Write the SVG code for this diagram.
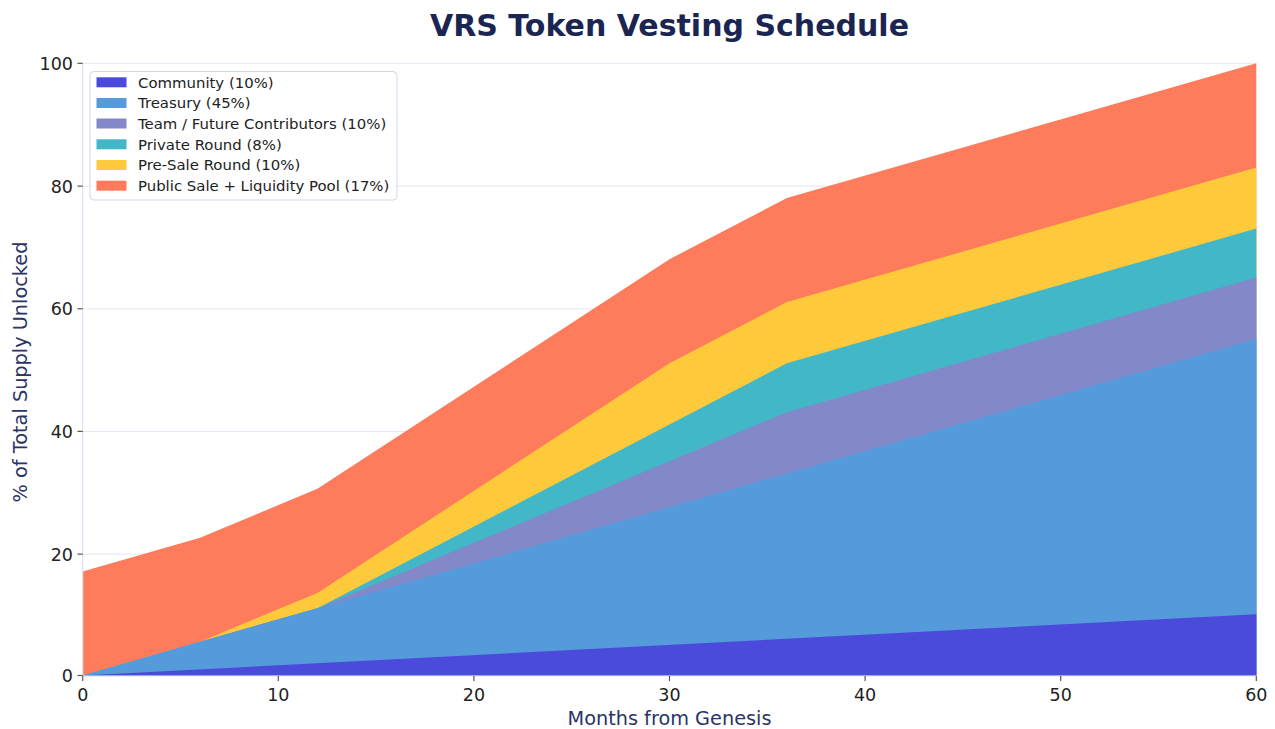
<svg xmlns="http://www.w3.org/2000/svg" width="1275" height="729" viewBox="0 0 1275 729">
<style>
text{font-family:"DejaVu Sans","Liberation Sans",sans-serif}
.tick{font-size:17.5px;fill:#222}
.grid{stroke:#e4e6f1;stroke-width:1}
.tk{stroke:#555;stroke-width:1.2}
.leg{font-size:14.9px;fill:#222}
.c1{fill:#4a4bdb}.c2{fill:#559bdb}.c3{fill:#8288c8}.c4{fill:#42b7c7}.c5{fill:#fec93a}.c6{fill:#fe7b5c}
</style>
<rect width="1275" height="729" fill="#fff"/>
<text x="669.5" y="36" text-anchor="middle" font-size="30" font-weight="bold" fill="#1b2552">VRS Token Vesting Schedule</text>
<g id="grid">
<line class="grid" x1="83" y1="63.3" x2="1256.3" y2="63.3"/>
<line class="grid" x1="83" y1="186.1" x2="1256.3" y2="186.1"/>
<line class="grid" x1="83" y1="308.8" x2="1256.3" y2="308.8"/>
<line class="grid" x1="83" y1="431.4" x2="1256.3" y2="431.4"/>
<line class="grid" x1="83" y1="554.1" x2="1256.3" y2="554.1"/>
</g>
<g id="areas">
<path id="public" class="c6" d="M82.7,675.5 L82.7,571.4 L200.06,537.8 L317.42,488.8 L669.5,259.2 L786.86,198.0 L1256.3,63.3 L1256.3,675.5 Z"/>
<path id="presale" class="c5" d="M82.7,675.5 L200.06,641.8 L317.42,592.9 L669.5,363.3 L786.86,302.1 L1256.3,167.4 L1256.3,675.5 Z"/>
<path id="private" class="c4" d="M82.7,675.5 L200.06,641.8 L317.42,608.2 L669.5,424.5 L786.86,363.3 L1256.3,228.6 L1256.3,675.5 Z"/>
<path id="team" class="c3" d="M82.7,675.5 L200.06,641.8 L317.42,608.2 L669.5,461.2 L786.86,412.3 L1256.3,277.6 L1256.3,675.5 Z"/>
<path id="treasury" class="c2" d="M82.7,675.5 L200.06,641.8 L317.42,608.2 L669.5,507.1 L786.86,473.5 L1256.3,338.8 L1256.3,675.5 Z"/>
<path id="community" class="c1" d="M82.7,675.5 L1256.3,614.3 L1256.3,675.5 Z"/>
</g>
<g id="axes">
<line x1="82.7" y1="63" x2="82.7" y2="676" stroke="#dcdfee" stroke-width="1.2"/>
<line x1="82.7" y1="676" x2="1256.3" y2="676" stroke="#dcdfee" stroke-width="1.2"/>
<line class="tk" x1="77.5" y1="675.5" x2="82.7" y2="675.5"/>
<line class="tk" x1="77.5" y1="554.1" x2="82.7" y2="554.1"/>
<line class="tk" x1="77.5" y1="431.4" x2="82.7" y2="431.4"/>
<line class="tk" x1="77.5" y1="308.8" x2="82.7" y2="308.8"/>
<line class="tk" x1="77.5" y1="186.1" x2="82.7" y2="186.1"/>
<line class="tk" x1="77.5" y1="63.3" x2="82.7" y2="63.3"/>
<line class="tk" x1="82.7" y1="676" x2="82.7" y2="681"/>
<line class="tk" x1="278.3" y1="676" x2="278.3" y2="681"/>
<line class="tk" x1="473.9" y1="676" x2="473.9" y2="681"/>
<line class="tk" x1="669.5" y1="676" x2="669.5" y2="681"/>
<line class="tk" x1="865.1" y1="676" x2="865.1" y2="681"/>
<line class="tk" x1="1060.7" y1="676" x2="1060.7" y2="681"/>
<line class="tk" x1="1256.3" y1="676" x2="1256.3" y2="681"/>
<text class="tick" x="73" y="682" text-anchor="end">0</text>
<text class="tick" x="73" y="560.5" text-anchor="end">20</text>
<text class="tick" x="73" y="437.8" text-anchor="end">40</text>
<text class="tick" x="73" y="315.2" text-anchor="end">60</text>
<text class="tick" x="73" y="192.5" text-anchor="end">80</text>
<text class="tick" x="73" y="69.7" text-anchor="end">100</text>
<text class="tick" x="82.7" y="701" text-anchor="middle">0</text>
<text class="tick" x="278.3" y="701" text-anchor="middle">10</text>
<text class="tick" x="473.9" y="701" text-anchor="middle">20</text>
<text class="tick" x="669.5" y="701" text-anchor="middle">30</text>
<text class="tick" x="865.1" y="701" text-anchor="middle">40</text>
<text class="tick" x="1060.7" y="701" text-anchor="middle">50</text>
<text class="tick" x="1256.3" y="701" text-anchor="middle">60</text>
<text x="669.5" y="725" text-anchor="middle" font-size="19.3" fill="#2b3566">Months from Genesis</text>
<text transform="translate(27,372) rotate(-90)" text-anchor="middle" font-size="19.3" fill="#2b3566">% of Total Supply Unlocked</text>
</g>
<g id="legend">
<rect x="90" y="71.5" width="307" height="128.5" rx="4" fill="#fff" fill-opacity="0.85" stroke="#d3d6e8" stroke-width="1"/>
<rect class="c1" x="96.5" y="77.3" width="30" height="10"/>
<rect class="c2" x="96.5" y="98" width="30" height="10"/>
<rect class="c3" x="96.5" y="118.5" width="30" height="10"/>
<rect class="c4" x="96.5" y="139.3" width="30" height="10"/>
<rect class="c5" x="96.5" y="160" width="30" height="10"/>
<rect class="c6" x="96.5" y="180.7" width="30" height="10"/>
<text class="leg" x="138" y="87.7">Community (10%)</text>
<text class="leg" x="138" y="108.4">Treasury (45%)</text>
<text class="leg" x="138" y="128.9">Team / Future Contributors (10%)</text>
<text class="leg" x="138" y="149.7">Private Round (8%)</text>
<text class="leg" x="138" y="170.4">Pre-Sale Round (10%)</text>
<text class="leg" x="138" y="191.1">Public Sale + Liquidity Pool (17%)</text>
</g>
</svg>
